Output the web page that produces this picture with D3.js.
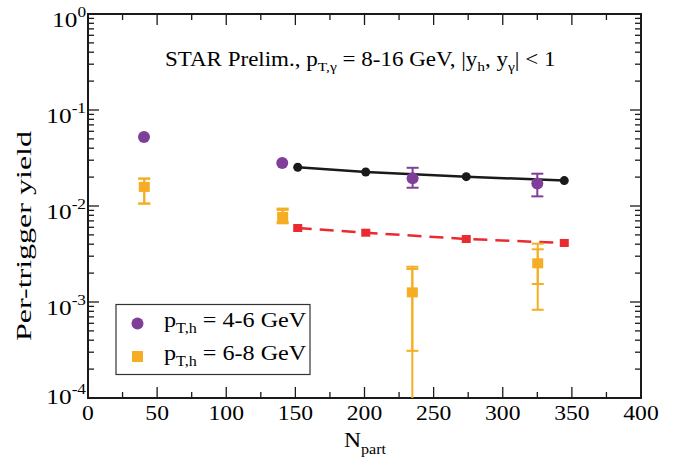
<!DOCTYPE html>
<html>
<head>
<meta charset="utf-8">
<script src="https://cdn.jsdelivr.net/npm/d3@7"></script>
<style>
  body { margin: 0; background: #fff; }
  svg { font-family: "Liberation Serif", "Times New Roman", serif; }
</style>
</head>
<body>
<svg id="chart" width="684" height="465"></svg>
<script>
"use strict";

// purple circles, pT,h = 4-6 GeV
const purpleNpart = [40.5, 140.5, 234.8, 325];
const purpleYield = [0.0523, 0.0280, 0.0194, 0.0172];
const purpleErrHi = [null, null, 0.0250, 0.0217];
const purpleErrLo = [null, null, 0.0155, 0.0126];

// orange squares, pT,h = 6-8 GeV (two error bars each: stat, sys)
const orangeNpart = [40.7, 140.8, 234.6, 325.3];
const orangeYield = [0.0158, 0.0077, 0.00126, 0.00253];
const orangeStatHi = [0.0193, 0.0091, 0.00233, 0.00405];
const orangeStatLo = [0.0106, 0.0066, 0.00001, 0.00083];
const orangeSysHi = [0.0193, 0.0094, 0.00221, 0.00354];
const orangeSysLo = [0.0106, 0.0068, 0.00031, 0.00154];

// black curve (solid) and red curve (dashed)
const curveNpart = [151.7, 200.9, 273.6, 344.5];
const blackYield = [0.0253, 0.0226, 0.0202, 0.0184];
const redYield = [0.0059, 0.00527, 0.00453, 0.00412];

const xTicks = [0, 50, 100, 150, 200, 250, 300, 350, 400];
const yExponents = [0, -1, -2, -3, -4];

const PURPLE = '#7f3f98';
const ORANGE = '#f5ae23';
const RED = '#ea2a2f';
const BLACK = '#1a1a1a';
const SX = 1.15; // text in the figure is a bit wider than plain Times

const svg = d3.select('#chart');
const margin = { left: 88, right: 43, top: 14, bottom: 67 };
const W = 684, H = 465;

const x = d3.scaleLinear().domain([0, 400]).range([margin.left, W - margin.right]);
const y = d3.scaleLog().domain([1e-4, 1]).range([H - margin.bottom, margin.top]);

const g = svg.append('g');

function place(sel, px, py) {
  return sel.attr('transform', `translate(${px},${py}) scale(${SX},1)`);
}

// clip for data
svg.append('defs').append('clipPath').attr('id', 'plotClip')
  .append('rect')
  .attr('x', x(0)).attr('y', y(1))
  .attr('width', x(400) - x(0)).attr('height', y(1e-4) - y(1));

// minor / major ticks on all four sides, pointing inward
const yMinor = [];
for (let e = -4; e < 0; e++) {
  for (let m = 2; m <= 9; m++) yMinor.push(m * Math.pow(10, e));
}
const xMinor = d3.range(25, 400, 50);

const tickG = g.append('g').attr('stroke', BLACK).attr('stroke-width', 1.3);
yMinor.forEach(v => {
  tickG.append('line').attr('x1', x(0)).attr('x2', x(0) + 6).attr('y1', y(v)).attr('y2', y(v));
  tickG.append('line').attr('x1', x(400)).attr('x2', x(400) - 6).attr('y1', y(v)).attr('y2', y(v));
});
yExponents.forEach(e => {
  const v = Math.pow(10, e);
  tickG.append('line').attr('x1', x(0)).attr('x2', x(0) + 11).attr('y1', y(v)).attr('y2', y(v));
  tickG.append('line').attr('x1', x(400)).attr('x2', x(400) - 11).attr('y1', y(v)).attr('y2', y(v));
});
xMinor.forEach(v => {
  tickG.append('line').attr('x1', x(v)).attr('x2', x(v)).attr('y1', y(1e-4)).attr('y2', y(1e-4) - 6);
  tickG.append('line').attr('x1', x(v)).attr('x2', x(v)).attr('y1', y(1)).attr('y2', y(1) + 6);
});
xTicks.forEach(v => {
  tickG.append('line').attr('x1', x(v)).attr('x2', x(v)).attr('y1', y(1e-4)).attr('y2', y(1e-4) - 11);
  tickG.append('line').attr('x1', x(v)).attr('x2', x(v)).attr('y1', y(1)).attr('y2', y(1) + 11);
});

// frame
g.append('rect')
  .attr('x', x(0)).attr('y', y(1))
  .attr('width', x(400) - x(0)).attr('height', y(1e-4) - y(1))
  .attr('fill', 'none').attr('stroke', BLACK).attr('stroke-width', 2);

// x tick labels
g.append('g').selectAll('text').data(xTicks).join('text')
  .each(function(d) { place(d3.select(this), x(d), y(1e-4) + 21.5); })
  .attr('text-anchor', 'middle')
  .attr('font-size', 20.5)
  .text(d => d);

// y tick labels 10^e
const yl = g.append('g').selectAll('text').data(yExponents).join('text')
  .each(function(d) { place(d3.select(this), x(0) - 2, y(Math.pow(10, d)) + (d === -4 ? 6 : 13)); })
  .attr('text-anchor', 'end')
  .attr('font-size', 22);
yl.append('tspan').text('10');
yl.append('tspan').attr('dy', -10).attr('font-size', 15).text(d => d);

// axis titles
const xt = g.append('text').attr('font-size', 20.5);
place(xt, 344, 447);
xt.append('tspan').text('N');
xt.append('tspan').attr('dy', 7).attr('font-size', 14).text('part');

g.append('text')
  .attr('transform', 'translate(31,236) rotate(-90)')
  .attr('text-anchor', 'middle').attr('font-size', 21)
  .attr('textLength', 210).attr('lengthAdjust', 'spacingAndGlyphs')
  .text('Per-trigger yield');

// header label
const hd = g.append('text').attr('font-size', 20);
place(hd, 165, 66);
hd.append('tspan').text('STAR Prelim., p');
hd.append('tspan').attr('dy', 5).attr('font-size', 13.5).text('T,γ');
hd.append('tspan').attr('dy', -5).text(' = 8-16 GeV, |y');
hd.append('tspan').attr('dy', 5).attr('font-size', 13.5).text('h');
hd.append('tspan').attr('dy', -5).text(', y');
hd.append('tspan').attr('dy', 5).attr('font-size', 13.5).text('γ');
hd.append('tspan').attr('dy', -5).text('| < 1');

const plot = g.append('g').attr('clip-path', 'url(#plotClip)');

// black curve
const curveLine = (vals) => d3.line()
  .x((d, i) => x(curveNpart[i]))
  .y(d => y(d))(vals);

plot.append('path').attr('d', curveLine(blackYield))
  .attr('fill', 'none').attr('stroke', BLACK).attr('stroke-width', 2.5);
plot.append('g').selectAll('circle').data(blackYield).join('circle')
  .attr('cx', (d, i) => x(curveNpart[i])).attr('cy', d => y(d))
  .attr('r', 4.5).attr('fill', BLACK);

// red dashed curve
plot.append('path').attr('d', curveLine(redYield))
  .attr('fill', 'none').attr('stroke', RED).attr('stroke-width', 2.5)
  .attr('stroke-dasharray', '14,8');
plot.append('g').selectAll('rect').data(redYield).join('rect')
  .attr('x', (d, i) => x(curveNpart[i]) - 4.5).attr('y', d => y(d) - 4)
  .attr('width', 9).attr('height', 8).attr('fill', RED);

// error bar helper
function errBar(sel, xv, lo, hi, color, capW) {
  sel.append('line')
    .attr('x1', x(xv)).attr('x2', x(xv)).attr('y1', y(lo)).attr('y2', y(hi))
    .attr('stroke', color).attr('stroke-width', 2);
  [lo, hi].forEach(v => {
    if (v <= 1e-4) return;
    sel.append('line')
      .attr('x1', x(xv) - capW).attr('x2', x(xv) + capW).attr('y1', y(v)).attr('y2', y(v))
      .attr('stroke', color).attr('stroke-width', 2);
  });
}

// orange squares
orangeNpart.forEach((n, i) => {
  errBar(plot, n, orangeStatLo[i], orangeStatHi[i], ORANGE, 6);
  errBar(plot, n, orangeSysLo[i], orangeSysHi[i], ORANGE, 6);
});
plot.append('g').selectAll('rect').data(orangeYield).join('rect')
  .attr('x', (d, i) => x(orangeNpart[i]) - 5.5).attr('y', d => y(d) - 5)
  .attr('width', 11).attr('height', 10).attr('fill', ORANGE);

// purple circles
purpleNpart.forEach((n, i) => {
  if (purpleErrHi[i] != null) errBar(plot, n, purpleErrLo[i], purpleErrHi[i], PURPLE, 6);
});
plot.append('g').selectAll('circle').data(purpleYield).join('circle')
  .attr('cx', (d, i) => x(purpleNpart[i])).attr('cy', d => y(d))
  .attr('r', 6).attr('fill', PURPLE);

// legend
const lg = g.append('g');
lg.append('rect').attr('x', 116).attr('y', 304.5).attr('width', 194).attr('height', 70)
  .attr('fill', '#fff').attr('stroke', '#333').attr('stroke-width', 1.2);
const legendItems = [
  { label: '4-6 GeV', color: PURPLE, shape: 'circle' },
  { label: '6-8 GeV', color: ORANGE, shape: 'square' }
];
legendItems.forEach((it, i) => {
  const cy = 323.5 + i * 33;
  if (it.shape === 'circle') {
    lg.append('circle').attr('cx', 137.5).attr('cy', cy).attr('r', 6).attr('fill', it.color);
  } else {
    lg.append('rect').attr('x', 132).attr('y', cy - 5.5).attr('width', 11).attr('height', 11).attr('fill', it.color);
  }
  const t = lg.append('text').attr('font-size', 21);
  place(t, 164, cy + 3.5);
  t.append('tspan').text('p');
  t.append('tspan').attr('dy', 6).attr('font-size', 14).text('T,h');
  t.append('tspan').attr('dy', -6).text(' = ' + it.label);
});
</script>
</body>
</html>
